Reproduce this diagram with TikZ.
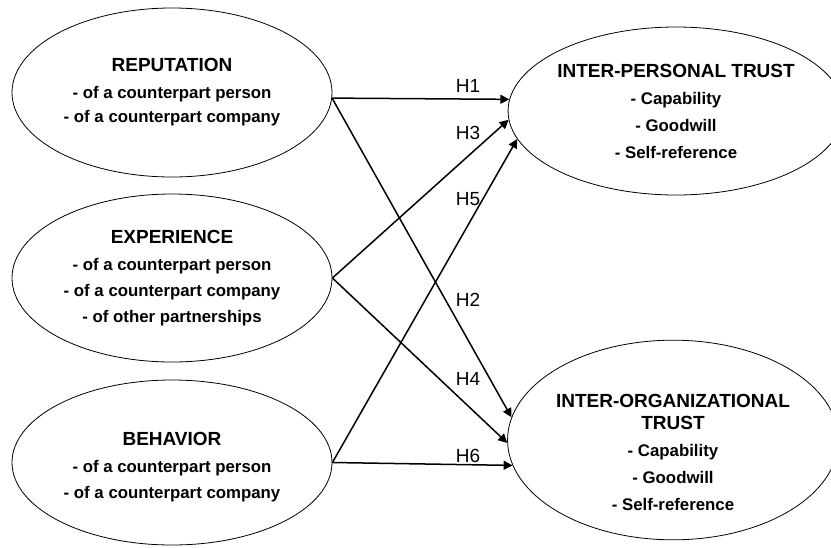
\documentclass[tikz,border=0pt]{standalone}
\usepackage{fontspec}
\setmainfont{Liberation Sans}
\usetikzlibrary{shapes.geometric, arrows.meta}
\newcommand{\factortitle}[1]{{\fontsize{19}{22}\selectfont #1}}

\begin{document}
\begin{tikzpicture}[x=1pt, y=-1pt,
  factor/.style={ellipse, draw, line width=0.8pt, inner sep=0pt, align=center, font=\bfseries\fontsize{16.8}{26}\selectfont},
  link/.style={line width=1.5pt, -{Triangle[length=9pt, width=9pt]}},
  hyp/.style={font=\fontsize{19}{21}\selectfont}]
\useasboundingbox (0,0) rectangle (831,547);
% antecedents
\node[factor, minimum width=320pt, minimum height=169pt] at (172, 92.5) (rep) {\factortitle{REPUTATION}\\[1pt] - of a counterpart person\\[-2pt] - of a counterpart company};
\node[factor, minimum width=320pt, minimum height=168pt] at (172, 278) (exp) {\factortitle{EXPERIENCE}\\[1pt] - of a counterpart person\\ - of a counterpart company\\ - of other partnerships};
\node[factor, minimum width=320pt, minimum height=165pt] at (172, 462.5) (beh) {\factortitle{\rule{0pt}{22pt}BEHAVIOR}\\[1pt] - of a counterpart person\\ - of a counterpart company};
% trust
\node[factor, minimum width=310pt, minimum height=168pt] at (676, 111) (ipt) {\factortitle{INTER-PERSONAL TRUST}\\[1pt] - Capability\\[1pt] - Goodwill\\[1pt] - Self-reference};
\node[factor, minimum width=316pt, minimum height=166pt] at (673, 440) (iot) {\factortitle{\rule{0pt}{38pt}INTER-ORGANIZATIONAL}\\[-4pt] \factortitle{TRUST}\\[1pt] - Capability\\[1pt] - Goodwill\\[1pt] - Self-reference};
% hypotheses
\draw[link] (rep.-2) -- (ipt.176);
\draw[link] (rep.-2) -- (iot.172);
\draw[link] (exp.east) -- (ipt.183);
\draw[link] (exp.east) -- (iot.181);
\draw[link] (beh.east) -- (ipt.190);
\draw[link] (beh.east) -- (iot.189);
\node[hyp] at (468, 86) (h1) {H1};
\node[hyp] at (468, 133) (h3) {H3};
\node[hyp] at (468, 199) (h5) {H5};
\node[hyp] at (468, 300) (h2) {H2};
\node[hyp] at (468, 379) (h4) {H4};
\node[hyp] at (468, 456) (h6) {H6};
\end{tikzpicture}
\end{document}
